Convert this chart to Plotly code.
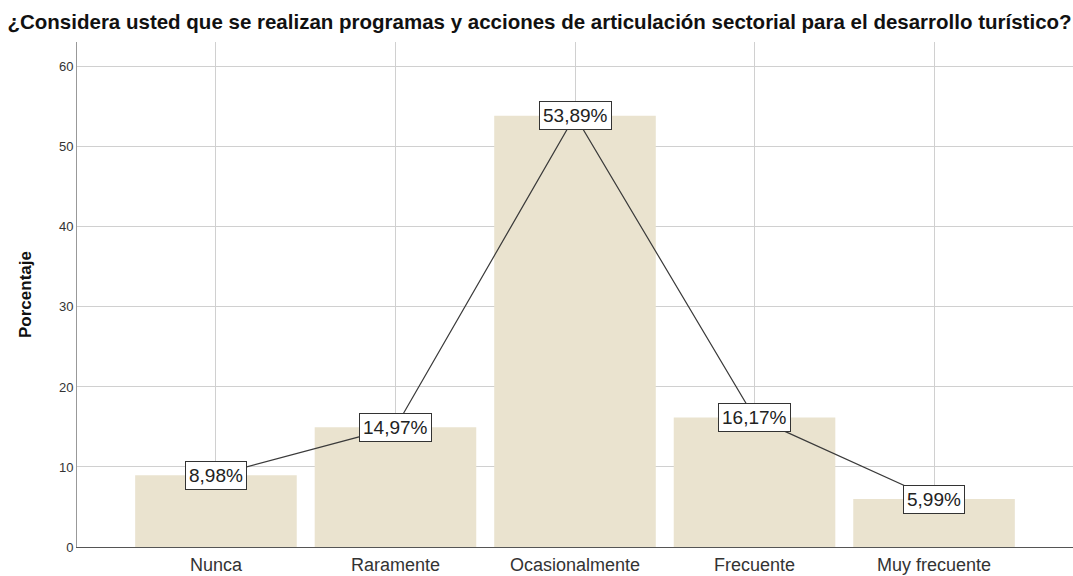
import plotly.graph_objects as go

categories = ["Nunca", "Raramente", "Ocasionalmente", "Frecuente", "Muy frecuente"]
values = [8.98, 14.97, 53.89, 16.17, 5.99]
labels = ["8,98%", "14,97%", "53,89%", "16,17%", "5,99%"]
y_ticks = [0, 10, 20, 30, 40, 50, 60]

fig = go.Figure()
fig.add_trace(go.Bar(
    x=list(range(len(categories))), y=values, width=0.9,
    marker=dict(color="#EAE3CF", line=dict(width=0)),
    hoverinfo="skip",
))
fig.add_trace(go.Scatter(
    x=list(range(len(categories))), y=values, mode="lines",
    line=dict(color="#3A3A3A", width=1.2), hoverinfo="skip",
))
for i, (v, t) in enumerate(zip(values, labels)):
    fig.add_annotation(
        x=i, y=v, text=t, showarrow=False, xanchor="center", yanchor="middle",
        font=dict(family="Liberation Sans, Arial, sans-serif", size=19, color="#222222"),
        bgcolor="white", bordercolor="#333333", borderwidth=1, borderpad=3,
    )

fig.update_layout(
    width=1073, height=576,
    margin=dict(l=77, r=0, t=42, b=29, autoexpand=False),
    paper_bgcolor="white", plot_bgcolor="white",
    showlegend=False,
    title=dict(
        text="<b>¿Considera usted que se realizan programas y acciones de articulación sectorial para el desarrollo turístico?</b>",
        x=0.007, xanchor="left", y=0.962, yanchor="middle",
        font=dict(family="Liberation Sans, Arial, sans-serif", size=20.5, color="#111111"),
    ),
    font=dict(family="Liberation Sans, Arial, sans-serif"),
)
fig.update_xaxes(
    range=[-0.774, 4.774], tickmode="array",
    tickvals=list(range(len(categories))), ticktext=categories,
    showgrid=True, gridcolor="#D0D0D0", gridwidth=1,
    showline=True, linecolor="#555555", linewidth=1,
    ticks="", tickfont=dict(size=18, color="#333333"), zeroline=False,
    ticklabelstandoff=1, automargin=False,
)
fig.update_yaxes(
    range=[0, 63.1], tickmode="array", tickvals=y_ticks,
    showgrid=True, gridcolor="#D0D0D0", gridwidth=1,
    showline=True, linecolor="#999999", linewidth=1,
    ticks="", tickfont=dict(size=13, color="#333333"), zeroline=False,
    title=dict(text="<b>Porcentaje</b>", font=dict(size=17, color="#111111"), standoff=22),
    automargin=False,
)

fig.write_html("out.html", config={"displayModeBar": False},
               post_script="document.body.style.margin='0';")
